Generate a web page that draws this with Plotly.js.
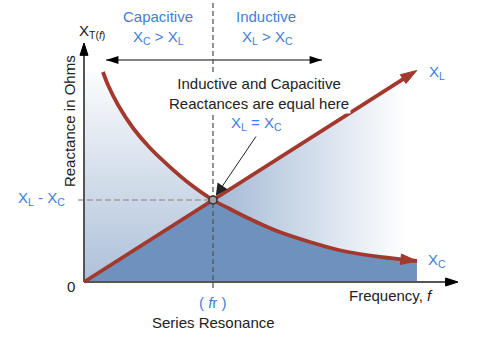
<!DOCTYPE html>
<html><head><meta charset="utf-8">
<script src="https://cdn.plot.ly/plotly-3.0.1.min.js"></script>
<style>html,body{margin:0;padding:0;background:#fff;}#chart{width:498px;height:338px;}</style>
</head><body><div id="chart"></div>
<script>
// Frequency in units of the resonant frequency fr, reactance in units of X at resonance
const resonanceF = 1.0;
const resonanceX = 1.0;
const xlFreq   = [0, 1.0, 2.58];
const xlValues = [0, 1.0, 2.58];
const xcFreq   = [0.147, 0.186, 0.264, 0.380, 0.512, 0.667, 0.822, 1.0, 1.132, 1.287, 1.496, 1.752, 2.008, 2.295, 2.581];
const xcValues = [2.561, 2.402, 2.159, 1.878, 1.634, 1.402, 1.195, 1.0, 0.890, 0.768, 0.622, 0.488, 0.378, 0.305, 0.256];
const seriesLabels = ['X<sub>L</sub>', 'X<sub>C</sub>'];
const regionNames = ['Capacitive', 'Inductive'];
const regionConditions = ['X<sub>C</sub> &gt; X<sub>L</sub>', 'X<sub>L</sub> &gt; X<sub>C</sub>'];
const xTickLabels = ['( <i>f</i>r )'];
const yTickLabels = ['0', 'X<sub>L</sub> - X<sub>C</sub>'];
const axisTitles = {x: 'Frequency, <i>f</i>', y: 'Reactance in Ohms', yTop: 'X<sub>T(<i>f</i>)</sub>'};
const notes = ['Inductive and Capacitive<br>Reactances are equal here', 'X<sub>L</sub> = X<sub>C</sub>', 'Series Resonance'];

const RED = '#a3382d', BLUE = '#3f80d8', DARK = '#222';
const lastI = xcFreq.length - 1;

// polygons built from the series
const darkX = [0], darkY = [0];
xlFreq.forEach((f, i) => { if (f <= resonanceF) { darkX.push(f); darkY.push(xlValues[i]); } });
xcFreq.forEach((f, i) => { if (f > resonanceF) { darkX.push(f); darkY.push(xcValues[i]); } });
darkX.push(xcFreq[lastI]); darkY.push(0);

const leftX = [], leftY = [];
xlFreq.forEach((f, i) => { if (f <= resonanceF) { leftX.push(f); leftY.push(xlValues[i]); } });
for (let i = lastI; i >= 0; i--) if (xcFreq[i] < resonanceF) { leftX.push(xcFreq[i]); leftY.push(xcValues[i]); }
leftX.push(0); leftY.push(xcValues[0]);

const rightX = [], rightY = [];
xlFreq.forEach((f, i) => { if (f >= resonanceF) { rightX.push(f); rightY.push(xlValues[i]); } });
for (let i = lastI; i >= 0; i--) if (xcFreq[i] >= resonanceF) { rightX.push(xcFreq[i]); rightY.push(xcValues[i]); }

function endArrow(n, size, color) {
  const s = new Array(n).fill(0); s[n - 1] = size;
  return {symbol: 'arrow', size: s, angleref: 'previous', color: color, opacity: 1, line: {width: 1, color: color}};
}

const traces = [
  {x: darkX, y: darkY, mode: 'lines', fill: 'toself', fillcolor: '#6f91bd', line: {width: 0}},
  {x: leftX, y: leftY, mode: 'lines', fill: 'toself', line: {width: 0},
   fillgradient: {type: 'vertical', start: 0, stop: xcValues[0], colorscale: [[0, '#adc0d9'], [1, '#fbfcfd']]}},
  {x: rightX, y: rightY, mode: 'lines', fill: 'toself', line: {width: 0},
   fillgradient: {type: 'horizontal', start: resonanceF, stop: 2.5, colorscale: [[0, '#a3b9d5'], [1, '#ffffff']]}},
  {x: [resonanceF, resonanceF], y: [-0.073, 3.44], mode: 'lines', line: {color: '#555', width: 1.3, dash: '5px,3px'}},
  {x: [-0.047, resonanceF], y: [resonanceX, resonanceX], mode: 'lines', line: {color: '#9e9e9e', width: 1.5, dash: '6px,3px'}},
  {x: [0, 2.899], y: [0, 0], mode: 'lines+markers', line: {color: '#555', width: 2}, marker: endArrow(2, 13, '#000'), cliponaxis: false},
  {x: [0, 0], y: [0, 2.915], mode: 'lines+markers', line: {color: '#555', width: 2}, marker: endArrow(2, 13, '#000'), cliponaxis: false},
  {x: [0.171, 1.845], y: [2.707, 2.707], mode: 'lines+markers', line: {color: '#5a5a5a', width: 1.5},
   marker: {symbol: 'arrow', size: 13, angle: [-90, 90], color: '#000', line: {width: 0}}},
  {x: xlFreq, y: xlValues, mode: 'lines+markers', line: {color: RED, width: 3.8}, marker: endArrow(xlFreq.length, 17, RED)},
  {x: xcFreq, y: xcValues, mode: 'lines+markers', line: {color: RED, width: 3.8, shape: 'spline', smoothing: 1}, marker: endArrow(xcFreq.length, 17, RED)},
  {x: [resonanceF], y: [resonanceX], mode: 'markers', marker: {symbol: 'circle', size: 8, color: '#a0a0a0', line: {color: '#333', width: 1.5}}}
];

function txt(x, y, text, opts) {
  return Object.assign({x: x, y: y, xref: 'x', yref: 'y', text: text, showarrow: false, xanchor: 'center', yanchor: 'middle'}, opts || {});
}
const blueFont = {color: BLUE, size: 15};
const darkFont = {color: DARK, size: 15};

const annotations = [
  txt(0.574, 3.232, regionNames[0], {font: blueFont}),
  txt(0.574, 2.976, regionConditions[0], {font: blueFont}),
  txt(1.411, 3.232, regionNames[1], {font: blueFont}),
  txt(1.419, 2.976, regionConditions[1], {font: blueFont}),
  txt(0.062, 3.061, axisTitles.yTop, {font: darkFont}),
  txt(-0.116, 1.963, axisTitles.y, {font: darkFont, textangle: -90}),
  txt(1.357, 2.293, notes[0], {font: {color: DARK, size: 15}, bgcolor: '#ffffff', borderpad: 1}),
  txt(1.341, 1.927, notes[1], {font: blueFont}),
  txt(-0.132, 1.02, yTickLabels[1], {font: blueFont, xanchor: 'right'}),
  txt(-0.054, -0.049, yTickLabels[0], {font: darkFont, xanchor: 'right'}),
  txt(2.736, 2.561, seriesLabels[0], {font: blueFont}),
  txt(2.736, 0.268, seriesLabels[1], {font: blueFont}),
  txt(resonanceF, -0.244, xTickLabels[0], {font: blueFont}),
  txt(resonanceF, -0.488, notes[2], {font: darkFont}),
  txt(2.380, -0.159, axisTitles.x, {font: darkFont}),
  {x: resonanceF, y: resonanceX, xref: 'x', yref: 'y', text: '', showarrow: true, ax: 44, ay: -65,
   arrowhead: 2, arrowsize: 2.4, arrowwidth: 1, arrowcolor: '#222', standoff: 5}
];

const layout = {
  width: 498, height: 338, margin: {l: 0, r: 0, t: 0, b: 0, pad: 0},
  paper_bgcolor: '#ffffff', plot_bgcolor: '#ffffff',
  xaxis: {range: [-0.6512, 3.2093], visible: false, fixedrange: true},
  yaxis: {range: [-0.6829, 3.4390], visible: false, fixedrange: true},
  showlegend: false, hovermode: false,
  font: {family: 'Liberation Sans, Arial, sans-serif', size: 15, color: DARK},
  annotations: annotations
};

Plotly.newPlot('chart', traces, layout, {staticPlot: true, displayModeBar: false});
</script>
</body></html>
